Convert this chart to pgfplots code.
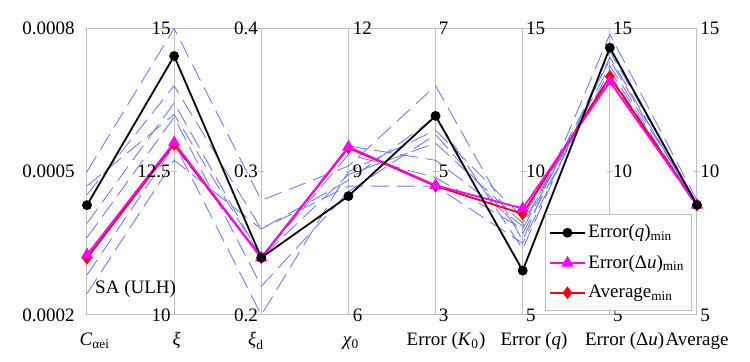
\documentclass[border=0pt]{standalone}
\usepackage{fontspec}
\setmainfont{Liberation Serif}
\usepackage{pgfplots}
\usepackage{pgfplotstable}
\pgfplotsset{compat=1.18}
\definecolor{sablue}{RGB}{115,125,255}
\definecolor{gridgray}{RGB}{190,190,190}
\definecolor{mag}{RGB}{255,0,255}
\definecolor{rd}{RGB}{255,0,0}
\pgfplotstableread{
x lo hi black mag red b1 b2 b3 b4 b5 b6 b7 b8
0 0.0002 0.0008 0.000430 0.000326 0.000319 0.0005 0.000452 0.000392 0.000362 0.000326 0.000284 0.000245 0.00047
1 10 15 14.52 13.01 12.98 15 14.0 13.7 13.45 13.0 12.95 12.7 13.5
2 0.2 0.4 0.240 0.240 0.240 0.28 0.26 0.24 0.22 0.20 0.24 0.26 0.24
3 6 12 8.49 9.52 9.50 9.12 8.82 9.54 8.58 9.0 9.36 8.7 8.94
4 3 7 5.78 4.81 4.80 6.2 5.76 5.16 5.52 5.58 4.92 4.8 5.4
5 5 15 6.55 8.72 8.53 7.6 7.3 8.1 7.85 8.4 8.0 7.5 8.2
6 5 15 14.33 13.14 13.32 14.8 14.2 13.9 13.55 13.25 13.7 14.0 13.4
7 5 15 8.84 8.84 8.84 9.0 8.9 8.85 8.8 8.75 8.9 8.8 8.85
}\pcdata
\newcommand{\fs}{\fontsize{9.5}{11.4}\selectfont}
\begin{document}
\begin{tikzpicture}[font=\fs, lab/.style={inner xsep=0pt}]
\path[use as bounding box] (0,0) rectangle (375pt,181pt);
\begin{axis}[
  at={(43.5pt,23.5pt)}, anchor=south west,
  scale only axis, width=305pt, height=143.25pt,
  xmin=0, xmax=7, ymin=0, ymax=1,
  xtick={0,...,7}, xticklabel=\empty, ytick=\empty,
  xmajorgrids, major grid style={color=gridgray, line width=0.5pt},
  axis line style={gridgray, line width=0.5pt},
  major tick length=0pt,
  clip=false,
  legend style={at={(1,0)}, anchor=south east, xshift=-2.5pt, yshift=2pt,
    draw=gridgray, font=\fs, row sep=3pt, inner xsep=2pt, inner ysep=3pt,
    nodes={inner xsep=1.5pt}},
  legend cell align=left,
]
\foreach \s in {b1,b2,b3,b4,b5,b6,b7,b8}{
  \addplot[sablue, line width=0.45pt, dash pattern=on 9pt off 4pt, forget plot]
    table[x=x, y expr=(\thisrow{\s}-\thisrow{lo})/(\thisrow{hi}-\thisrow{lo})] {\pcdata};
}
\addplot[rd, line width=0.9pt, mark=diamond*, mark size=2.5pt, forget plot]
  table[x=x, y expr=(\thisrow{red}-\thisrow{lo})/(\thisrow{hi}-\thisrow{lo})] {\pcdata};
\addplot[mag, line width=0.9pt, mark=triangle*, mark size=2.7pt, forget plot]
  table[x=x, y expr=(\thisrow{mag}-\thisrow{lo})/(\thisrow{hi}-\thisrow{lo})] {\pcdata};
\addplot[black, line width=0.9pt, mark=*, mark size=2pt, forget plot]
  table[x=x, y expr=(\thisrow{black}-\thisrow{lo})/(\thisrow{hi}-\thisrow{lo})] {\pcdata};
\addlegendimage{black, line width=0.9pt, mark=*, mark size=2pt}
\addlegendentry{Error(\textit{q})\textsubscript{min}}
\addlegendimage{mag, line width=0.9pt, mark=triangle*, mark size=2.7pt}
\addlegendentry{Error(Δ\textit{u})\textsubscript{min}}
\addlegendimage{rd, line width=0.9pt, mark=diamond*, mark size=2.5pt}
\addlegendentry{Average\textsubscript{min}}
\pgfplotsinvokeforeach{1,...,7}{
  \draw[gridgray, line width=0.5pt] (axis cs:#1,0.5) ++(-1.5pt,0) -- ++(3pt,0);
}
% axis value labels
\node[lab, anchor=east] at (axis cs:0,1) [xshift=-6pt] {0.0008};
\node[lab, anchor=east] at (axis cs:0,0.5) [xshift=-6pt] {0.0005};
\node[lab, anchor=east] at (axis cs:0,0) [xshift=-6pt] {0.0002};
\node[lab, anchor=east] at (axis cs:1,1) [xshift=-1.5pt] {15};
\node[lab, anchor=east] at (axis cs:1,0.5) [xshift=-1.5pt] {12.5};
\node[lab, anchor=east] at (axis cs:1,0) [xshift=-1.5pt] {10};
\node[lab, anchor=east] at (axis cs:2,1) [xshift=-1.5pt] {0.4};
\node[lab, anchor=east] at (axis cs:2,0.5) [xshift=-1.5pt] {0.3};
\node[lab, anchor=east] at (axis cs:2,0) [xshift=-1.5pt] {0.2};
\node[lab, anchor=west] at (axis cs:3,1) [xshift=2pt] {12};
\node[lab, anchor=west] at (axis cs:3,0.5) [xshift=2pt] {9};
\node[lab, anchor=west] at (axis cs:3,0) [xshift=2pt] {6};
\node[lab, anchor=west] at (axis cs:4,1) [xshift=1.5pt] {7};
\node[lab, anchor=west] at (axis cs:4,0.5) [xshift=1.5pt] {5};
\node[lab, anchor=west] at (axis cs:4,0) [xshift=1.5pt] {3};
\node[lab, anchor=west] at (axis cs:5,1) [xshift=1.5pt] {15};
\node[lab, anchor=west] at (axis cs:5,0.5) [xshift=1.5pt] {10};
\node[lab, anchor=west] at (axis cs:5,0) [xshift=1.5pt] {5};
\node[lab, anchor=west] at (axis cs:6,1) [xshift=1.5pt] {15};
\node[lab, anchor=west] at (axis cs:6,0.5) [xshift=1.5pt] {10};
\node[lab, anchor=west] at (axis cs:6,0) [xshift=1.5pt] {5};
\node[lab, anchor=west] at (axis cs:7,1) [xshift=1.5pt] {15};
\node[lab, anchor=west] at (axis cs:7,0.5) [xshift=1.5pt] {10};
\node[lab, anchor=west] at (axis cs:7,0) [xshift=1.5pt] {5};
% category labels
\node[anchor=base] at (axis cs:0.09,0) [yshift=-15.5pt] {\textit{C}\textsubscript{αei}};
\node[anchor=base] at (axis cs:1.03,0) [yshift=-15.5pt] {\textit{ξ}};
\node[anchor=base] at (axis cs:1.94,0) [yshift=-15.5pt] {\textit{ξ}\textsubscript{d}};
\node[anchor=base] at (axis cs:3.03,0) [yshift=-15.5pt] {\textit{χ}\textsubscript{0}};
\node[anchor=base] at (axis cs:4.12,0) [yshift=-15.5pt] {Error (\textit{K}\textsubscript{0})};
\node[anchor=base] at (axis cs:5.13,0) [yshift=-15.5pt] {Error (\textit{q})};
\node[anchor=base] at (axis cs:6.17,0) [yshift=-15.5pt] {Error (Δ\textit{u})};
\node[anchor=base] at (axis cs:7.0,0) [yshift=-15.5pt] {Average};
\node[anchor=west, inner sep=0pt] at (axis cs:0.09,0.09) {SA (ULH)};
\end{axis}
\end{tikzpicture}
\end{document}
